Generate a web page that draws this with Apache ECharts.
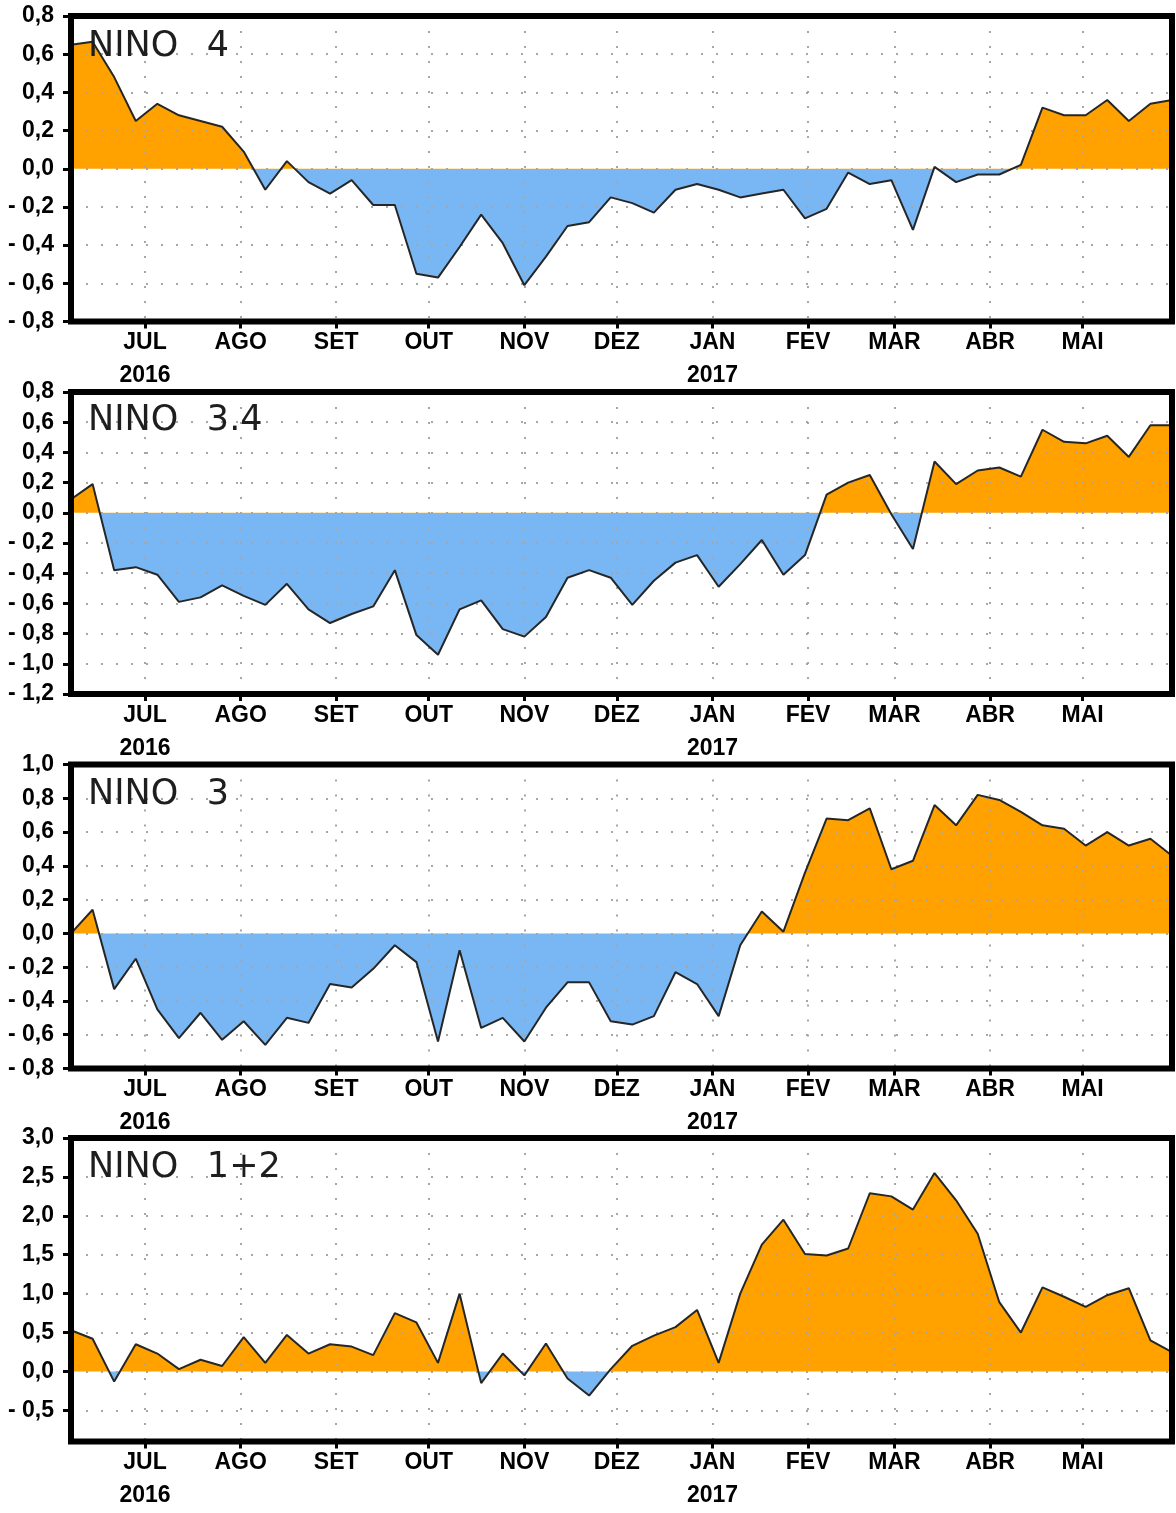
<!DOCTYPE html>
<html><head><meta charset="utf-8">
<script src="https://cdn.jsdelivr.net/npm/echarts@6/dist/echarts.min.js"></script>
<style>html,body{margin:0;padding:0;background:#fff}#c{width:1176px;height:1513px}</style>
</head><body><div id="c"></div>
<script>
// Weekly dates (one point per week)
const weeks = [
  '2016-06-07','2016-06-14','2016-06-21','2016-06-28','2016-07-05','2016-07-12','2016-07-19','2016-07-26',
  '2016-08-02','2016-08-09','2016-08-16','2016-08-23','2016-08-30','2016-09-06','2016-09-13','2016-09-20',
  '2016-09-27','2016-10-04','2016-10-11','2016-10-18','2016-10-25','2016-11-01','2016-11-08','2016-11-15',
  '2016-11-22','2016-11-29','2016-12-06','2016-12-13','2016-12-20','2016-12-27','2017-01-03','2017-01-10',
  '2017-01-17','2017-01-24','2017-01-31','2017-02-07','2017-02-14','2017-02-21','2017-02-28','2017-03-07',
  '2017-03-14','2017-03-21','2017-03-28','2017-04-04','2017-04-11','2017-04-18','2017-04-25','2017-05-02',
  '2017-05-09','2017-05-16','2017-05-23','2017-05-30'
];
const monthNames = ['JAN','FEV','MAR','ABR','MAI','JUN','JUL','AGO','SET','OUT','NOV','DEZ'];
const titles = ['NINO\u2002 4','NINO\u2002 3.4','NINO\u2002 3','NINO\u2002 1+2'];

const nino4 = [0.65,0.665,0.48,0.25,0.34,0.28,0.25,0.22,0.09,-0.11,
  0.04,-0.07,-0.13,-0.06,-0.19,-0.19,-0.55,-0.57,-0.41,-0.24,
  -0.39,-0.61,-0.46,-0.30,-0.28,-0.15,-0.18,-0.23,-0.11,-0.08,
  -0.11,-0.15,-0.13,-0.11,-0.26,-0.21,-0.02,-0.08,-0.06,-0.32,
  0.01,-0.07,-0.03,-0.03,0.02,0.32,0.28,0.28,0.36,0.25,0.34,0.36];
const nino34 = [0.09,0.19,-0.38,-0.36,-0.41,-0.59,-0.56,-0.48,-0.55,-0.61,
  -0.47,-0.64,-0.73,-0.67,-0.62,-0.38,-0.81,-0.94,-0.64,-0.58,
  -0.77,-0.82,-0.69,-0.43,-0.38,-0.43,-0.61,-0.45,-0.33,-0.28,
  -0.49,-0.34,-0.18,-0.41,-0.28,0.12,0.20,0.25,-0.01,-0.24,
  0.34,0.19,0.28,0.30,0.24,0.55,0.47,0.46,0.51,0.37,0.58,0.58];
const nino3 = [0.0,0.14,-0.33,-0.15,-0.45,-0.62,-0.47,-0.63,-0.52,-0.66,
  -0.50,-0.53,-0.30,-0.32,-0.21,-0.07,-0.17,-0.64,-0.10,-0.56,
  -0.50,-0.64,-0.44,-0.29,-0.29,-0.52,-0.54,-0.49,-0.23,-0.30,
  -0.49,-0.07,0.13,0.01,0.36,0.68,0.67,0.74,0.38,0.43,
  0.76,0.64,0.82,0.79,0.72,0.64,0.62,0.52,0.60,0.52,0.56,0.46];
const nino12 = [0.53,0.42,-0.13,0.35,0.23,0.03,0.15,0.07,0.44,0.11,
  0.47,0.23,0.35,0.32,0.21,0.75,0.63,0.11,1.0,-0.15,
  0.23,-0.05,0.36,-0.09,-0.31,0.03,0.33,0.46,0.57,0.79,
  0.11,1.0,1.63,1.95,1.51,1.49,1.58,2.29,2.25,2.08,
  2.55,2.20,1.77,0.89,0.50,1.08,0.96,0.83,0.98,1.07,0.40,0.25];
const yTicks12 = [-0.5,0,0.5,1.0,1.5,2.0,2.5,3.0];

const seriesValues = [nino4, nino34, nino3, nino12];
const yRanges = [
  {min:-0.8, max:0.8, interval:0.2},
  {min:-1.2, max:0.8, interval:0.2},
  {min:-0.8, max:1.0, interval:0.2},
  {min:-0.9, max:3.0, custom:yTicks12}
];

// layout (pixels)
const layout = [
  {top:16, height:305.5, titleTop:29},
  {top:392, height:302, titleTop:403},
  {top:764.5, height:304, titleTop:777},
  {top:1138, height:303.5, titleTop:1150}
];
const ORANGE = '#FFA200', BLUE = '#78B7F3';
const DAY = 86400000;
const labelFont = {fontFamily:'"Liberation Sans", Arial, sans-serif', fontWeight:'bold', fontSize:23, color:'#000'};
const gridDots = {color:'#a6a6a6', width:2, type:[2,13]};

function yFmt(v){
  const a = Math.abs(v).toFixed(1).replace('.', ',');
  return v < -1e-9 ? '- ' + a : a;
}
function xFmt(value){
  const d = new Date(value);
  if (d.getDate() !== 1) return '';
  const m = d.getMonth();
  let s = monthNames[m];
  if (m === 6 && d.getFullYear() === 2016) s += '\n2016';
  if (m === 0 && d.getFullYear() === 2017) s += '\n2017';
  return s;
}

const grid = [], xAxis = [], yAxis = [], series = [], visualMap = [], title = [];
layout.forEach((L, i) => {
  grid.push({left:71, width:1101, top:L.top, height:L.height, show:true,
    borderColor:'#000', borderWidth:6, backgroundColor:'transparent', z:10});
  xAxis.push({type:'time', gridIndex:i, min:weeks[0], max:weeks[weeks.length-1],
    splitNumber:12, minInterval:29*DAY, maxInterval:31*DAY, z:3,
    axisLine:{show:false, onZero:false},
    axisTick:{show:true, length:7, lineStyle:{color:'#000', width:3}},
    axisLabel:Object.assign({formatter:xFmt, margin:5, lineHeight:33, showMinLabel:false, showMaxLabel:false}, labelFont),
    splitLine:{show:true, lineStyle:gridDots}});
  const R = yRanges[i];
  const ya = {type:'value', gridIndex:i, min:R.min, max:R.max, z:3,
    axisLine:{show:false, onZero:false},
    axisTick:{show:true, length:8, lineStyle:{color:'#000', width:3}},
    axisLabel:Object.assign({formatter:yFmt, margin:17}, labelFont),
    splitLine:{show:true, lineStyle:gridDots}};
  if (R.custom) {
    ya.axisLabel.customValues = R.custom;
    ya.axisTick.customValues = R.custom;
  } else {
    ya.interval = R.interval;
  }
  yAxis.push(ya);
  const data = weeks.map((w, k) => [w, seriesValues[i][k]]);
  series.push({type:'line', xAxisIndex:i, yAxisIndex:i, data, symbol:'none', silent:true,
    lineStyle:{width:0, opacity:0}, areaStyle:{opacity:1}, z:2});
  series.push({type:'line', xAxisIndex:i, yAxisIndex:i, data, symbol:'none', silent:true,
    lineStyle:{color:'#262626', width:2}, z:4});
  visualMap.push({type:'piecewise', show:false, seriesIndex:2*i, dimension:1,
    pieces:[{gte:-10, lt:0, color:BLUE},{gte:0, lte:10, color:ORANGE}]});
  title.push({text:titles[i], left:88, top:L.titleTop, padding:0,
    textStyle:{fontFamily:'"DejaVu Sans", sans-serif', fontSize:35, fontWeight:'normal', color:'#1e1e1e'}});
});

const chart = echarts.init(document.getElementById('c'), null, {renderer:'canvas'});
chart.setOption({animation:false, backgroundColor:'#fff', title, grid, xAxis, yAxis, series, visualMap});
</script>
</body></html>
